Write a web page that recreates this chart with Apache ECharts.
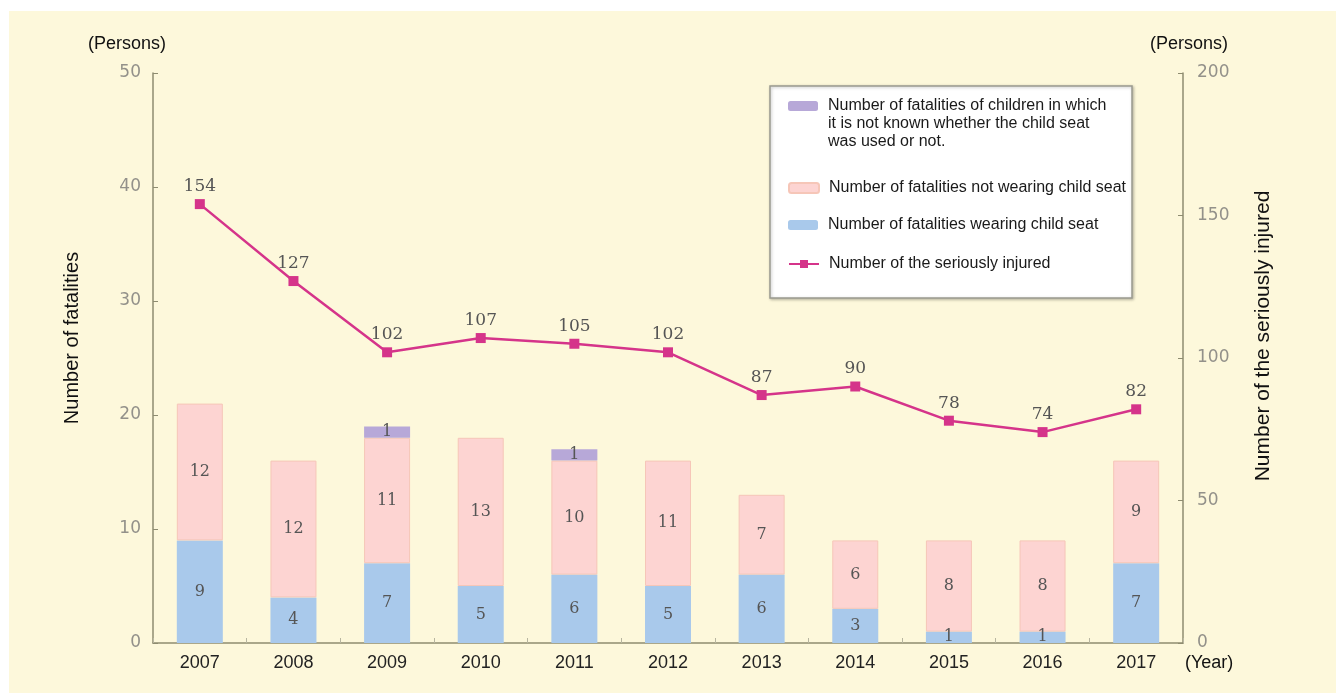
<!DOCTYPE html>
<html>
<head>
<meta charset="utf-8">
<script src="https://cdn.jsdelivr.net/npm/echarts@6/dist/echarts.min.js"></script>
<style>
  html, body { margin: 0; padding: 0; background: #ffffff; }
  #chart { width: 1336px; height: 693px; }
</style>
</head>
<body>
<div id="chart"></div>
<script>
// Child fatalities by child-seat use, and seriously injured children, 2007-2017
const years = ['2007', '2008', '2009', '2010', '2011', '2012', '2013', '2014', '2015', '2016', '2017'];
const wearingSeat = [9, 4, 7, 5, 6, 5, 6, 3, 1, 1, 7];
const notWearingSeat = [12, 12, 11, 13, 10, 11, 7, 6, 8, 8, 9];
const unknownUse = [0, 0, 1, 0, 1, 0, 0, 0, 0, 0, 0];
const seriouslyInjured = [154, 127, 102, 107, 105, 102, 87, 90, 78, 74, 82];

const NAME_UNKNOWN = 'Number of fatalities of children in which';
const NAME_NOT = 'Number of fatalities not wearing child seat';
const NAME_WEAR = 'Number of fatalities wearing child seat';
const NAME_INJ = 'Number of the seriously injured';

const BG = '#fdf8db';
const AXIS = '#8e8c70';
const TICK_FONT = { fontFamily: 'DejaVu Sans', fontSize: 17, color: '#93918a' };
const BAR_LABEL = { show: true, position: 'inside', fontFamily: 'DejaVu Serif', fontSize: 16, color: '#555555',
  formatter: p => (p.value ? String(p.value) : '') };

const chart = echarts.init(document.getElementById('chart'), null, { renderer: 'canvas' });

const legendCommon = {
  orient: 'vertical', itemWidth: 30, itemHeight: 10, itemGap: 0, padding: 0,
  selectedMode: false,
  textStyle: { fontFamily: 'Liberation Sans', fontSize: 16, color: '#1a1a1a', padding: [0, 0, 0, 5] }
};

const TITLE_FONT = { fontFamily: 'Liberation Sans', fill: '#111111' };

chart.setOption({
  backgroundColor: '#ffffff',
  animation: false,
  graphic: [
    { type: 'rect', z: -10, shape: { x: 9, y: 11, width: 1327, height: 682 }, style: { fill: BG } },
    { type: 'rect', z: 5, shape: { x: 770, y: 86, width: 362, height: 212 },
      style: { fill: '#ffffff', stroke: '#9a9a90', lineWidth: 1.5,
               shadowBlur: 3, shadowColor: 'rgba(0,0,0,0.25)', shadowOffsetX: 1, shadowOffsetY: 1 } },
    { type: 'text', z: 20, left: 828, top: 115,
      style: { text: 'it is not known whether the child seat\nwas used or not.', fontFamily: 'Liberation Sans',
               fontSize: 16, lineHeight: 18, fill: '#1a1a1a' } },
    { type: 'text', left: 88, top: 35,
      style: Object.assign({ text: '(Persons)', fontSize: 18 }, TITLE_FONT) },
    { type: 'text', left: 1150, top: 35,
      style: Object.assign({ text: '(Persons)', fontSize: 18 }, TITLE_FONT) },
    { type: 'text', left: 1185, top: 654,
      style: Object.assign({ text: '(Year)', fontSize: 18 }, TITLE_FONT) },
    { type: 'text', x: 72, y: 338, rotation: Math.PI / 2,
      style: Object.assign({ text: 'Number of fatalities', fontSize: 20, align: 'center', verticalAlign: 'middle' }, TITLE_FONT) },
    { type: 'text', x: 1263, y: 336, rotation: Math.PI / 2,
      style: Object.assign({ text: 'Number of the seriously injured', fontSize: 21, align: 'center', verticalAlign: 'middle' }, TITLE_FONT) }
  ],
  legend: [
    Object.assign({}, legendCommon, { left: 788, top: 98, z: 20, data: [NAME_UNKNOWN] }),
    Object.assign({}, legendCommon, { left: 788, top: 180, z: 20, data: [NAME_NOT] }),
    Object.assign({}, legendCommon, { left: 788, top: 217, z: 20, data: [NAME_WEAR] }),
    Object.assign({}, legendCommon, { left: 788, top: 256, z: 20, data: [NAME_INJ] })
  ],
  grid: { left: 153, right: 153, top: 73, bottom: 50, containLabel: false },
  xAxis: {
    type: 'category', data: years, boundaryGap: true,
    axisLine: { lineStyle: { color: AXIS, width: 1.5 } },
    axisTick: { show: true, inside: true, length: 5, lineStyle: { color: '#b8b6a0' } },
    axisLabel: { margin: 11, fontFamily: 'Liberation Sans', fontSize: 18, color: '#222222' }
  },
  yAxis: [
    { type: 'value', min: 0, max: 50, interval: 10, position: 'left',
      axisLine: { show: true, lineStyle: { color: AXIS, width: 1.5 } },
      axisTick: { show: true, inside: true, length: 5, lineStyle: { color: AXIS } },
      splitLine: { show: false },
      axisLabel: Object.assign({ margin: 12 }, TICK_FONT) },
    { type: 'value', min: 0, max: 200, interval: 50, position: 'right',
      axisLine: { show: true, lineStyle: { color: AXIS, width: 1.5 } },
      axisTick: { show: true, inside: true, length: 5, lineStyle: { color: AXIS } },
      splitLine: { show: false },
      axisLabel: Object.assign({ margin: 14 }, TICK_FONT) }
  ],
  series: [
    { name: NAME_WEAR, type: 'bar', stack: 'f', barWidth: 46, data: wearingSeat,
      itemStyle: { color: '#a9c9eb' }, label: BAR_LABEL },
    { name: NAME_NOT, type: 'bar', stack: 'f', barWidth: 46, data: notWearingSeat,
      itemStyle: { color: '#fdd4d2', borderColor: '#f6c6b8', borderWidth: 1 }, label: BAR_LABEL },
    { name: NAME_UNKNOWN, type: 'bar', stack: 'f', barWidth: 46, data: unknownUse,
      itemStyle: { color: '#b7a8d8' }, label: BAR_LABEL },
    { name: NAME_INJ, type: 'line', yAxisIndex: 1, data: seriouslyInjured,
      symbol: 'rect', symbolSize: 10,
      lineStyle: { color: '#d5348a', width: 2.5 },
      itemStyle: { color: '#d5348a' },
      label: { show: true, position: 'top', distance: 4, fontFamily: 'DejaVu Serif', fontSize: 17, color: '#555555' },
      z: 10 }
  ]
});
</script>
</body>
</html>
